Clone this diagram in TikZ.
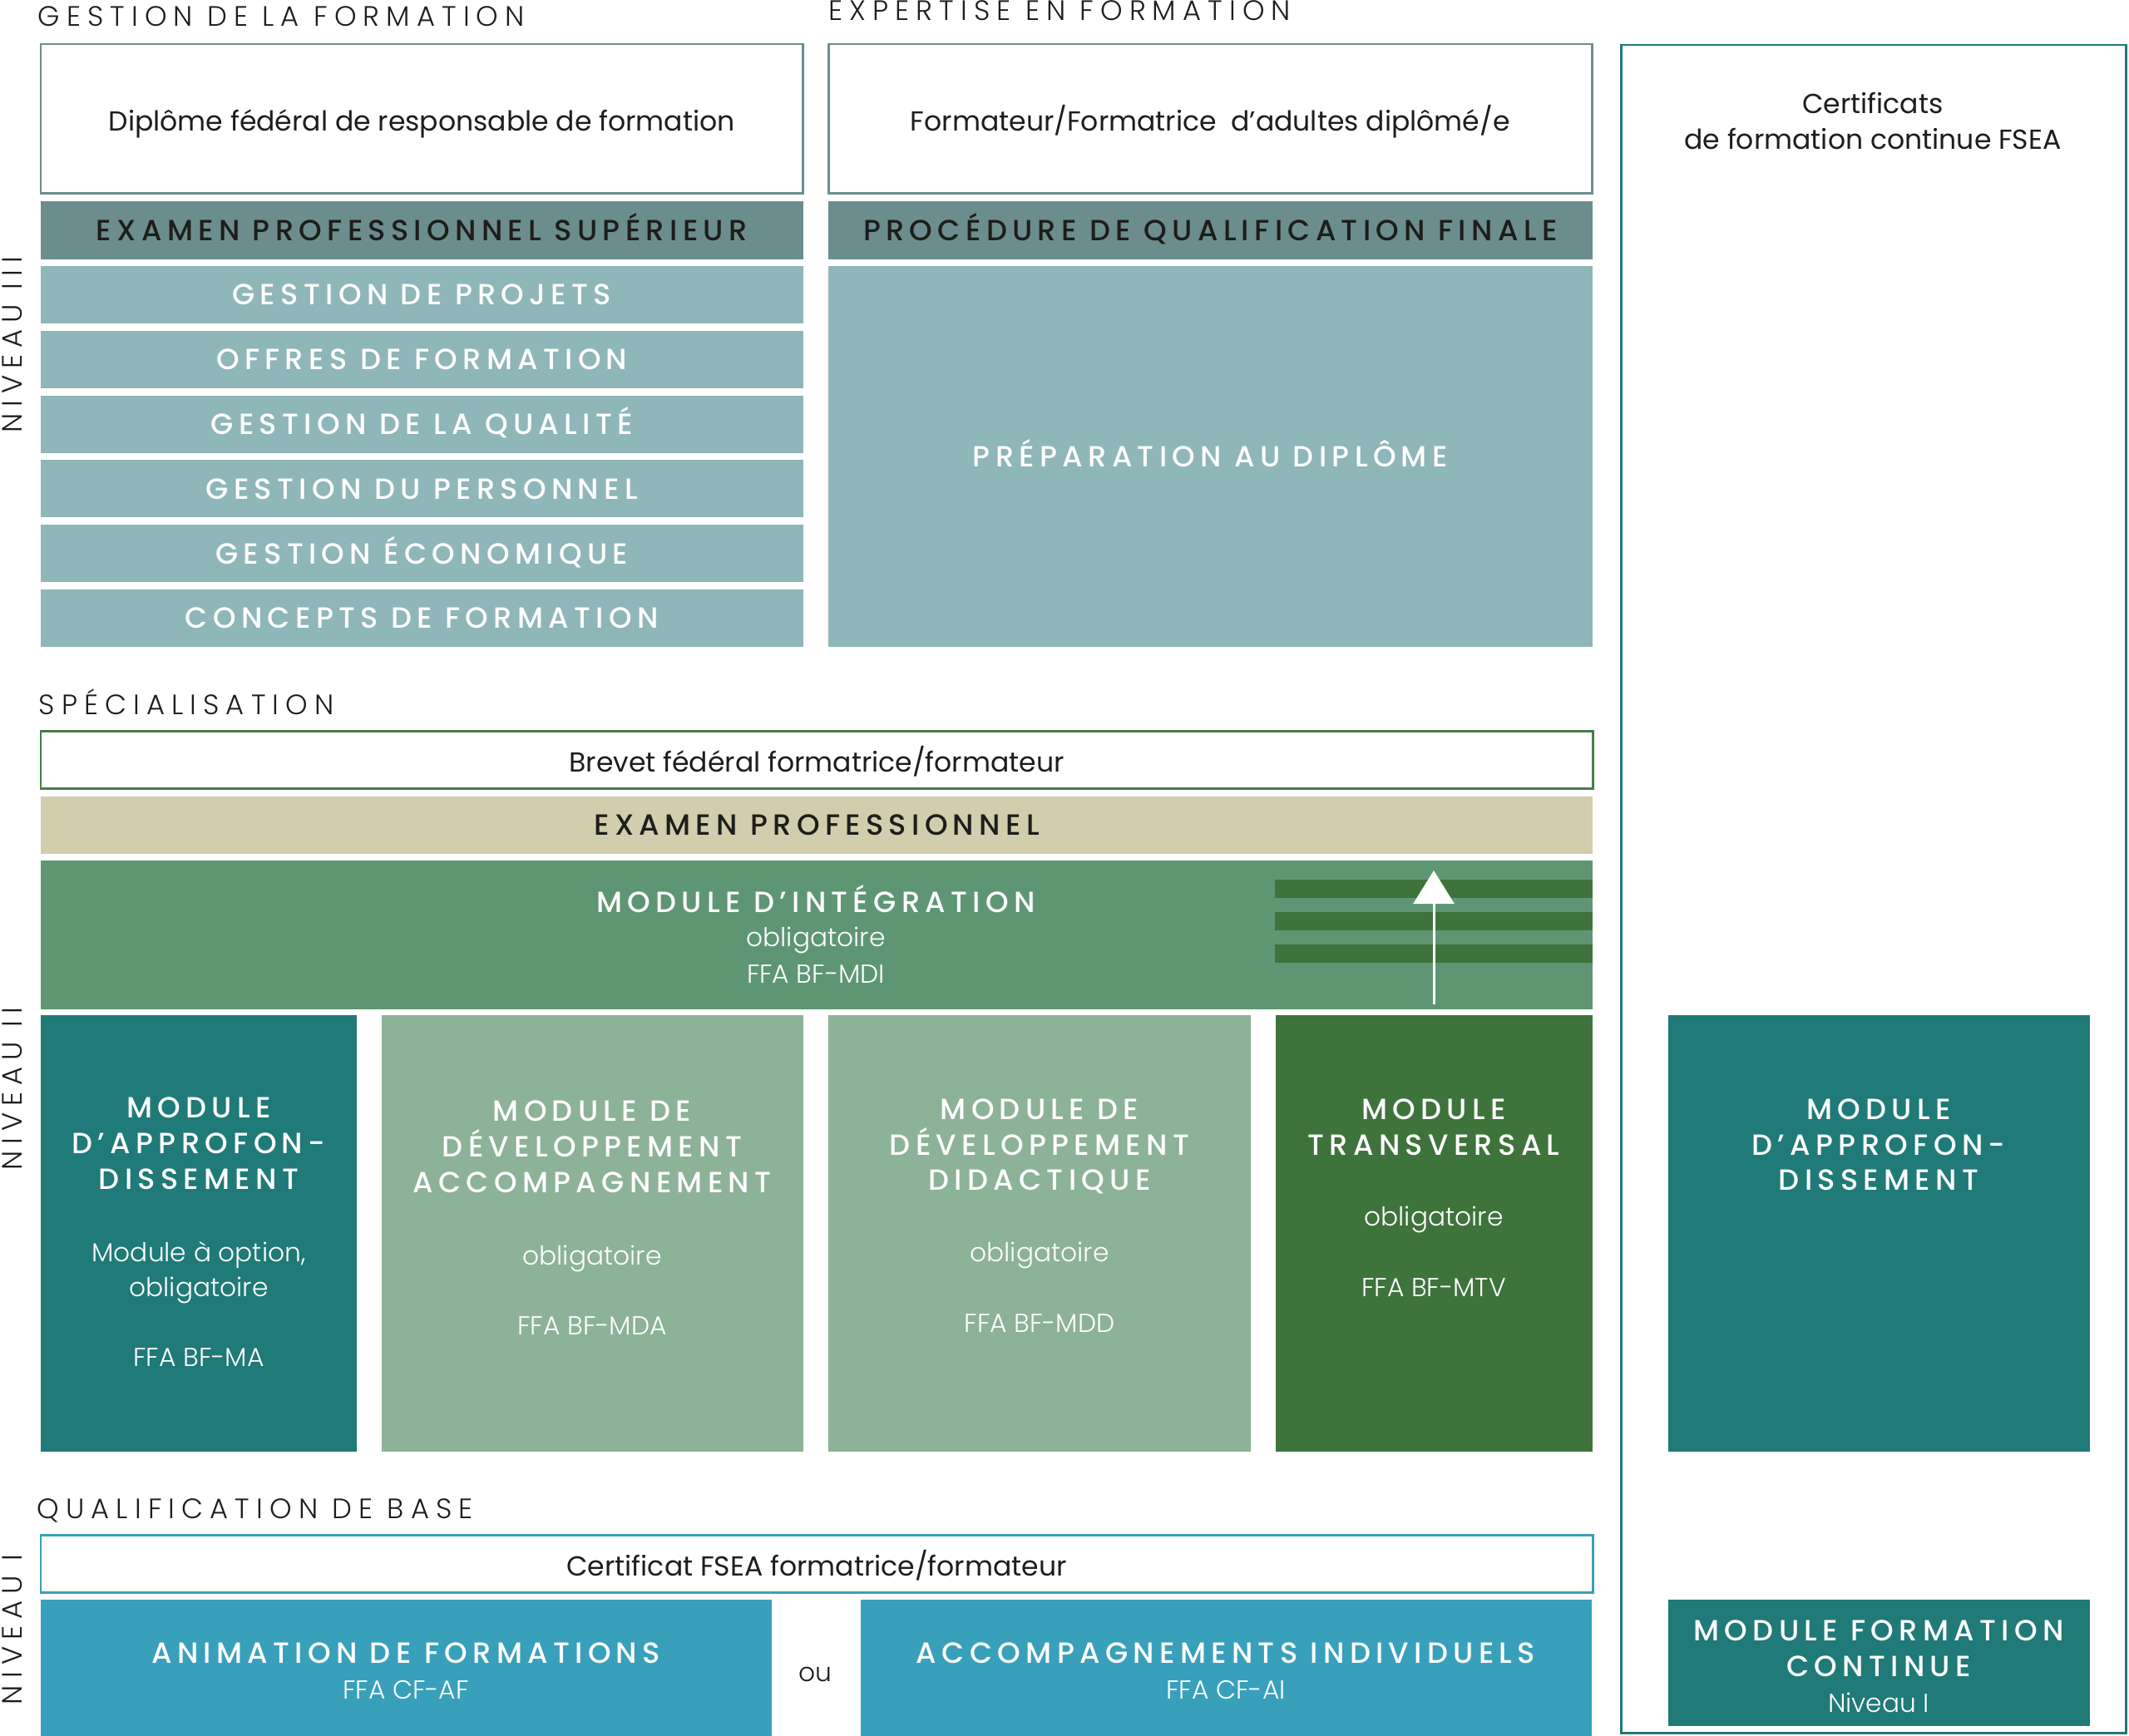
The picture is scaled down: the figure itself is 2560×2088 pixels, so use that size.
\documentclass[tikz,border=0pt]{standalone}
\usepackage{fontspec}
\usetikzlibrary{arrows.meta}
\setmainfont{Poppins}
\newfontfamily\bodyfont{Poppins}
\IfFontExistsTF{Poppins Medium}{%
  \newfontfamily\capsfont{Poppins Medium}[LetterSpace=18]
}{%
  \newfontfamily\capsfont{Poppins}[LetterSpace=20]
}
\IfFontExistsTF{Poppins Light}{%
  \newfontfamily\lightfont{Poppins Light}
  \newfontfamily\lightcaps{Poppins Light}[LetterSpace=24]
}{%
  \newfontfamily\lightfont{Poppins}
  \newfontfamily\lightcaps{Poppins}[LetterSpace=24]
}
\definecolor{ink}{RGB}{29,29,27}
\definecolor{greyteal}{RGB}{108,141,141}
\definecolor{paleteal}{RGB}{143,182,185}
\definecolor{deepteal}{RGB}{31,122,120}
\definecolor{sand}{RGB}{210,205,172}
\definecolor{midgreen}{RGB}{94,150,116}
\definecolor{palegreen}{RGB}{140,178,151}
\definecolor{darkgreen}{RGB}{62,115,59}
\definecolor{framegreen}{RGB}{70,125,72}
\definecolor{skyblue}{RGB}{57,160,188}

\begin{document}
\begin{tikzpicture}[x=0.01cm, y=-0.01cm,
    box/.style 2 args={minimum width=#1, minimum height=#2, inner sep=0pt, outer sep=0pt, anchor=north west},
    frame/.style={draw=#1, line width=0.85pt, fill=white},
    mid/.style={text height=7pt, text depth=0pt},
    bodymid/.style={text height=8.5pt, text depth=0pt},
    capw/.style={font=\capsfont\fontsize{10}{12}\selectfont, text=white},
    capk/.style={font=\capsfont\fontsize{10}{12}\selectfont, text=ink},
    body/.style={font=\bodyfont\fontsize{9.4}{11}\selectfont, text=ink},
    sub/.style={font=\lightfont\fontsize{8.9}{11}\selectfont, text=white, anchor=base},
    head/.style={font=\lightcaps\fontsize{9.6}{11}\selectfont, text=ink, anchor=base west, inner sep=0pt}]
    \fill[white] (0,0) rectangle (2560,2088);
    \useasboundingbox (0,0) rectangle (2560,2088);

    % Headings
    \node[head] (Head-gestion) at (45,32) {GESTION DE LA FORMATION};
    \node[head] (Head-expertise) at (996,25) {EXPERTISE EN FORMATION};
    \node[head] (Head-spec) at (46,859) {SPÉCIALISATION};
    \node[head] (Head-qual) at (44,1826) {QUALIFICATION DE BASE};
    \foreach \name/\y [count=\i] in {NIVEAU III/415, NIVEAU II/1310, NIVEAU I/1960} {
        \node[head, anchor=base, rotate=90] (Niveau-\i) at (26,\y) {\name};
    }

    % Niveau III
    \node[box={9.16cm}{1.79cm}, frame=greyteal, body, bodymid] (Diplome) at (49,53) {Diplôme fédéral de responsable de formation};
    \node[box={9.18cm}{1.79cm}, frame=greyteal, body, bodymid] (Formateur) at (996,53) {Formateur/Formatrice~ d’adultes diplômé/e};
    \node[box={9.16cm}{0.70cm}, fill=greyteal, capk, mid] (EPS) at (49,242) {EXAMEN PROFESSIONNEL SUPÉRIEUR};
    \node[box={9.18cm}{0.70cm}, fill=greyteal, capk, mid] (PQF) at (996,242) {PROCÉDURE DE QUALIFICATION FINALE};
    \foreach \name [count=\i] in {GESTION DE PROJETS, OFFRES DE FORMATION, GESTION DE LA QUALITÉ, GESTION DU PERSONNEL, GESTION ÉCONOMIQUE, CONCEPTS DE FORMATION} {
        \node[box={9.16cm}{0.69cm}, fill=paleteal, capw, mid] (Bar-\i) at (49,{320+77.8*(\i-1)}) {\name};
    }
    \node[box={9.18cm}{4.58cm}, fill=paleteal, capw, mid] (Prep) at (996,320) {PRÉPARATION AU DIPLÔME};

    % FSEA column
    \node[box={6.07cm}{20.29cm}, draw=deepteal, line width=0.85pt] (FSEA) at (1949,54) {};
    \foreach \name/\y [count=\i] in {Certificats/137, de formation continue FSEA/180} {
        \node[body, anchor=base] (Cert-\i) at (2252,\y) {\name};
    }
    \node[box={5.07cm}{5.25cm}, fill=deepteal] (MA-right) at (2006,1221) {};
    \node[box={5.07cm}{1.52cm}, fill=deepteal] (MFC) at (2006,1924) {};

    % Niveau II
    \node[box={18.65cm}{0.69cm}, frame=framegreen, body, bodymid] (Brevet) at (49,879) {Brevet fédéral formatrice/formateur};
    \node[box={18.65cm}{0.69cm}, fill=sand, capk, mid] (EP) at (49,958) {EXAMEN PROFESSIONNEL};
    \node[box={18.65cm}{1.79cm}, fill=midgreen] (MDI) at (49,1035) {};
    \foreach \i in {1,2,3} {
        \node[box={3.82cm}{0.22cm}, fill=darkgreen] (Stripe-\i) at (1533,{1058+39*(\i-1)}) {};
    }
    \node[box={3.80cm}{5.25cm}, fill=deepteal] (MA) at (49,1221) {};
    \node[box={5.07cm}{5.25cm}, fill=palegreen] (MDA) at (459,1221) {};
    \node[box={5.08cm}{5.25cm}, fill=palegreen] (MDD) at (996,1221) {};
    \node[box={3.81cm}{5.25cm}, fill=darkgreen] (MTV) at (1534,1221) {};
    \coordinate (Arrow-foot) at (1724,1208);
    \coordinate (Arrow-tip) at (1724,1047);
    \draw[white, line width=0.85pt, -{Triangle[width=0.49cm, length=0.40cm]}] (Arrow-foot) -- (Arrow-tip);

    % Niveau I
    \node[box={18.65cm}{0.69cm}, frame=skyblue, body, bodymid] (CertFSEA) at (49,1846) {Certificat FSEA formatrice/formateur};
    \node[box={8.78cm}{1.64cm}, fill=skyblue] (AF) at (49,1924) {};
    \node[box={8.78cm}{1.64cm}, fill=skyblue] (AI) at (1035,1924) {};
    \node[font=\lightfont\fontsize{8.9}{11}\selectfont, text=ink, anchor=base] (Ou) at (980,2022) {ou};

    % Titles
    \foreach \x/\y/\name [count=\i] in {981/1097/MODULE D’INTÉGRATION,
        239/1344/MODULE, 239/1387/D’APPROFON-, 239/1430/DISSEMENT,
        712/1348/MODULE DE, 712/1391/DÉVELOPPEMENT, 712/1434/ACCOMPAGNEMENT,
        1250/1346/MODULE DE, 1250/1389/DÉVELOPPEMENT, 1250/1431/DIDACTIQUE,
        1724/1346/MODULE, 1724/1389/TRANSVERSAL,
        2259/1346/MODULE, 2259/1389/D’APPROFON-, 2259/1431/DISSEMENT,
        488/2000/ANIMATION DE FORMATIONS, 1474/2000/ACCOMPAGNEMENTS INDIVIDUELS,
        2259/1973/MODULE FORMATION, 2259/2016/CONTINUE} {
        \node[capw, anchor=base] (Title-\i) at (\x,\y) {\name};
    }
    % Sub lines
    \foreach \x/\y/\name [count=\i] in {981/1138/obligatoire, 981/1182/FFA BF-MDI,
        239/1517/{Module à option,}, 239/1559/obligatoire, 239/1643/FFA BF-MA,
        712/1521/obligatoire, 712/1605/FFA BF-MDA,
        1250/1517/obligatoire, 1250/1602/FFA BF-MDD,
        1724/1474/obligatoire, 1724/1559/FFA BF-MTV,
        488/2043/FFA CF-AF, 1474/2043/FFA CF-AI, 2259/2059/Niveau I} {
        \node[sub] (Sub-\i) at (\x,\y) {\name};
    }
\end{tikzpicture}
\end{document}
